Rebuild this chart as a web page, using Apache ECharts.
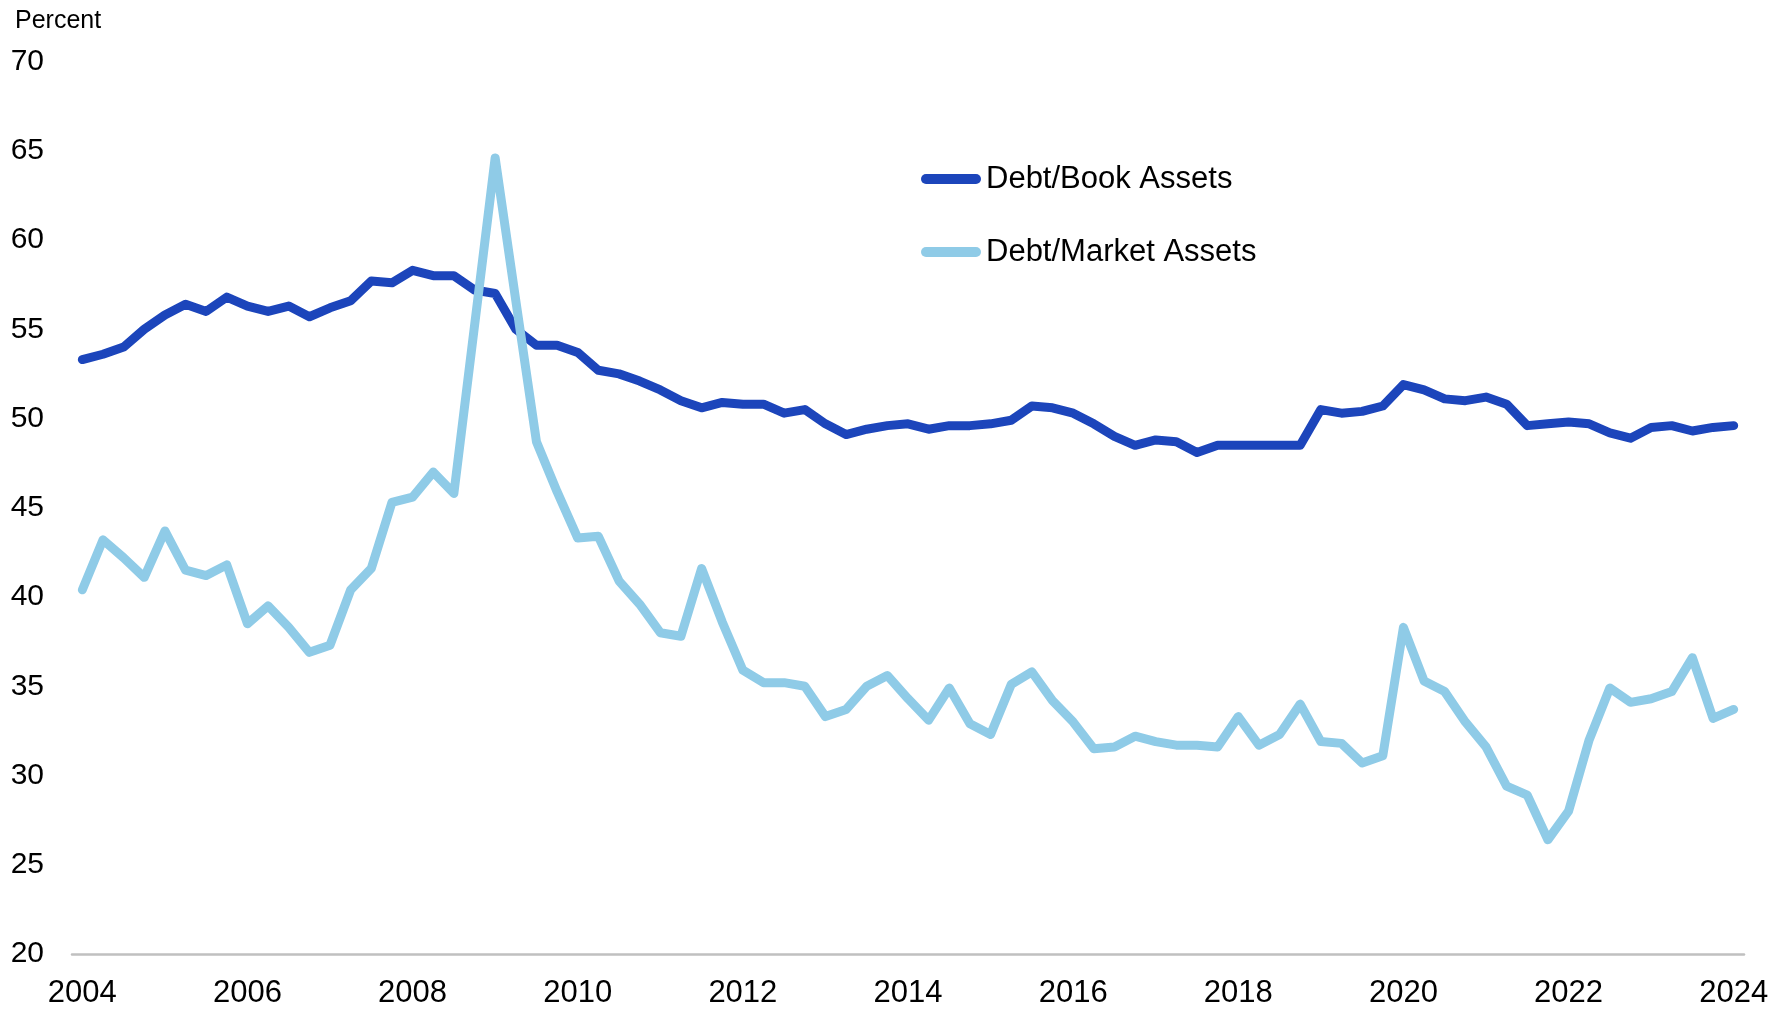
<!DOCTYPE html>
<html>
<head>
<meta charset="utf-8">
<script src="https://cdn.jsdelivr.net/npm/echarts@6/dist/echarts.min.js"></script>
<style>
  html, body { margin: 0; padding: 0; background: #fff; }
  #chart { width: 1785px; height: 1009px; }
</style>
</head>
<body>
<div id="chart"></div>
<script>
// 季度数据 2004Q1 - 2024Q1
var years = [2004, 2005, 2006, 2007, 2008, 2009, 2010, 2011, 2012, 2013, 2014,
             2015, 2016, 2017, 2018, 2019, 2020, 2021, 2022, 2023, 2024];
var quarters = ['Q1', 'Q2', 'Q3', 'Q4'];

var debtBook = [
  53.3, 53.6, 54.0, 55.0, 55.8, 56.4, 56.0, 56.8,
  56.3, 56.0, 56.3, 55.7, 56.2, 56.6, 57.7, 57.6,
  58.3, 58.0, 58.0, 57.2, 57.0, 55.0, 54.1, 54.1,
  53.7, 52.7, 52.5, 52.1, 51.6, 51.0, 50.6, 50.9,
  50.8, 50.8, 50.3, 50.5, 49.7, 49.1, 49.4, 49.6,
  49.7, 49.4, 49.6, 49.6, 49.7, 49.9, 50.7, 50.6,
  50.3, 49.7, 49.0, 48.5, 48.8, 48.7, 48.1, 48.5,
  48.5, 48.5, 48.5, 48.5, 50.5, 50.3, 50.4, 50.7,
  51.9, 51.6, 51.1, 51.0, 51.2, 50.8, 49.6, 49.7,
  49.8, 49.7, 49.2, 48.9, 49.5, 49.6, 49.3, 49.5,
  49.6
];

var debtMarket = [
  40.4, 43.2, 42.2, 41.1, 43.7, 41.5, 41.2, 41.8,
  38.5, 39.5, 38.3, 36.9, 37.3, 40.4, 41.6, 45.3,
  45.6, 47.0, 45.8, 55.2, 64.6, 56.6, 48.7, 45.9,
  43.3, 43.4, 40.9, 39.6, 38.0, 37.8, 41.6, 38.6,
  35.9, 35.2, 35.2, 35.0, 33.3, 33.7, 35.0, 35.6,
  34.3, 33.1, 34.9, 32.9, 32.3, 35.1, 35.8, 34.2,
  33.0, 31.5, 31.6, 32.2, 31.9, 31.7, 31.7, 31.6,
  33.3, 31.7, 32.3, 34.0, 31.9, 31.8, 30.7, 31.1,
  38.3, 35.3, 34.7, 33.0, 31.6, 29.4, 28.9, 26.4,
  28.0, 32.0, 34.9, 34.1, 34.3, 34.7, 36.6, 33.2,
  33.7
];

var categories = [];
years.forEach(function (y) {
  quarters.forEach(function (q) {
    if (categories.length < debtBook.length) categories.push(y + q);
  });
});

var font = 'Liberation Sans, Arial, sans-serif';
var myChart = echarts.init(document.getElementById('chart'));

var option = {
  backgroundColor: '#fff',
  animation: false,
  title: {
    text: 'Percent',
    left: 10,
    top: 4,
    textStyle: { fontFamily: font, fontSize: 25, fontWeight: 'normal', color: '#000' }
  },
  legend: {
    orient: 'vertical',
    left: 921,
    top: 161,
    padding: 0,
    itemGap: 37,
    itemWidth: 60,
    itemHeight: 10,
    icon: 'path://M5,0 L55,0 A5,5 0 0 1 55,10 L5,10 A5,5 0 0 1 5,0 Z',
    textStyle: { fontFamily: font, fontSize: 31, color: '#000', lineHeight: 36 },
    data: ['Debt/Book Assets', 'Debt/Market Assets']
  },
  grid: {
    left: 72,
    right: 41,
    top: 61.5,
    bottom: 55,
    containLabel: false
  },
  xAxis: {
    type: 'category',
    boundaryGap: true,
    data: categories,
    axisLine: { lineStyle: { color: '#c0c0c0', width: 2.5 } },
    axisTick: { show: false },
    axisLabel: {
      interval: 7,
      margin: 24,
      fontFamily: font,
      fontSize: 31,
      color: '#000',
      formatter: function (v) { return v.slice(0, 4); }
    },
    splitLine: { show: false }
  },
  yAxis: {
    type: 'value',
    min: 20,
    max: 70,
    interval: 5,
    axisLine: { show: false },
    axisTick: { show: false },
    splitLine: { show: false },
    axisLabel: {
      margin: 28,
      fontFamily: font,
      fontSize: 30,
      color: '#000',
      padding: [4, 0, 0, 0]
    }
  },
  series: [
    {
      name: 'Debt/Book Assets',
      type: 'line',
      data: debtBook,
      showSymbol: false,
      color: '#1c45bb',
      lineStyle: { width: 9, color: '#1c45bb', cap: 'round', join: 'round' }
    },
    {
      name: 'Debt/Market Assets',
      type: 'line',
      data: debtMarket,
      showSymbol: false,
      color: '#8fcbe7',
      lineStyle: { width: 9, color: '#8fcbe7', cap: 'round', join: 'round' }
    }
  ]
};

myChart.setOption(option);
</script>
</body>
</html>
